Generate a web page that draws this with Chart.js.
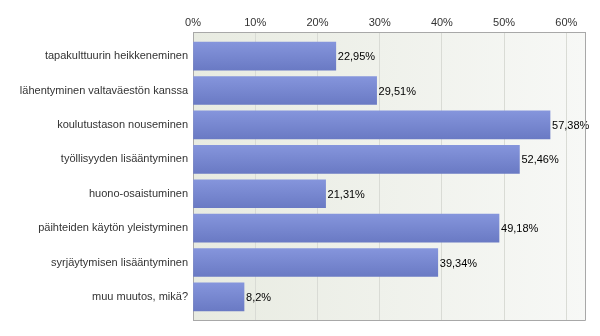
<!DOCTYPE html>
<html>
<head>
<meta charset="utf-8">
<script src="https://cdn.jsdelivr.net/npm/chart.js@4"></script>
<style>
  html, body { margin: 0; padding: 0; background: #fff; }
  #wrap { width: 600px; height: 336px; position: relative; }
</style>
</head>
<body>
<div id="wrap"><canvas id="chart"></canvas></div>
<script>
const categories = [
    'tapakulttuurin heikkeneminen',
    'lähentyminen valtaväestön kanssa',
    'koulutustason nouseminen',
    'työllisyyden lisääntyminen',
    'huono-osaistuminen',
    'päihteiden käytön yleistyminen',
    'syrjäytymisen lisääntyminen',
    'muu muutos, mikä?'
];
const values = [22.95, 29.51, 57.38, 52.46, 21.31, 49.18, 39.34, 8.2];
const valueLabels = ['22,95%', '29,51%', '57,38%', '52,46%', '21,31%', '49,18%', '39,34%', '8,2%'];
const tickValues = [0, 10, 20, 30, 40, 50, 60];

const FONT = '"Liberation Sans", Arial, sans-serif';
const BAR_H = 28;

// plot background gradient
const plotBg = {
    id: 'plotBg',
    beforeDraw(chart) {
        const { ctx, chartArea: a } = chart;
        const g = ctx.createLinearGradient(a.left, 0, a.right, 0);
        g.addColorStop(0, '#e8ebe1');
        g.addColorStop(1, '#f7f8f6');
        ctx.save();
        ctx.fillStyle = g;
        ctx.fillRect(a.left, a.top, a.right - a.left, a.bottom - a.top);
        ctx.restore();
    }
};

// value text after each bar
const barValues = {
    id: 'barValues',
    afterDatasetsDraw(chart) {
        const { ctx } = chart;
        const meta = chart.getDatasetMeta(0);
        ctx.save();
        ctx.font = '11px ' + FONT;
        ctx.fillStyle = '#000';
        ctx.textBaseline = 'middle';
        meta.data.forEach((bar, i) => {
            ctx.fillText(valueLabels[i], bar.x + 2, bar.y + 1);
        });
        ctx.restore();
    }
};

function barGradient(context) {
    const chart = context.chart;
    const yScale = chart.scales.y;
    if (!yScale || context.dataIndex === undefined) return '#7686d0';
    const yc = yScale.getPixelForValue(context.dataIndex);
    if (!isFinite(yc)) return '#7686d0';
    const g = chart.ctx.createLinearGradient(0, yc - BAR_H / 2, 0, yc + BAR_H / 2);
    g.addColorStop(0, '#8595dc');
    g.addColorStop(1, '#6a7ac4');
    return g;
}

new Chart(document.getElementById('chart'), {
    type: 'bar',
    data: {
        labels: categories,
        datasets: [{
            data: values,
            backgroundColor: barGradient,
            borderWidth: 0,
            barThickness: BAR_H
        }]
    },
    options: {
        indexAxis: 'y',
        responsive: true,
        maintainAspectRatio: false,
        animation: false,
        layout: { padding: { left: 0, right: 15, top: 0, bottom: 16 } },
        plugins: {
            legend: { display: false },
            tooltip: { enabled: false }
        },
        scales: {
            x: {
                position: 'top',
                min: 0,
                max: 63,
                afterBuildTicks(scale) {
                    scale.ticks = tickValues.map(v => ({ value: v }));
                },
                afterFit(scale) { scale.height = 32; },
                ticks: {
                    padding: 2,
                    color: '#333',
                    font: { family: FONT, size: 11 },
                    callback: v => v + '%'
                },
                grid: { color: '#d9dbd5', drawTicks: false },
                border: { color: '#a8a8a8' }
            },
            y: {
                // leave some empty room above the first and below the last bar
                afterBuildTicks(scale) {
                    scale._startValue = -0.7;
                    scale._valueRange = categories.length + 0.37;
                },
                afterFit(scale) { scale.width = 193; },
                ticks: {
                    padding: 5,
                    color: '#333',
                    font: { family: FONT, size: 11 }
                },
                grid: { display: false, drawTicks: false },
                border: { color: '#a8a8a8' }
            }
        }
    },
    plugins: [plotBg, barValues, {
        id: 'frame',
        afterDraw(chart) {
            const { ctx, chartArea: a } = chart;
            ctx.save();
            ctx.strokeStyle = '#a8a8a8';
            ctx.lineWidth = 1;
            ctx.beginPath();
            ctx.moveTo(a.left, a.bottom + 0.5);
            ctx.lineTo(a.right + 0.5, a.bottom + 0.5);
            ctx.lineTo(a.right + 0.5, a.top);
            ctx.stroke();
            ctx.restore();
        }
    }]
});
</script>
</body>
</html>
